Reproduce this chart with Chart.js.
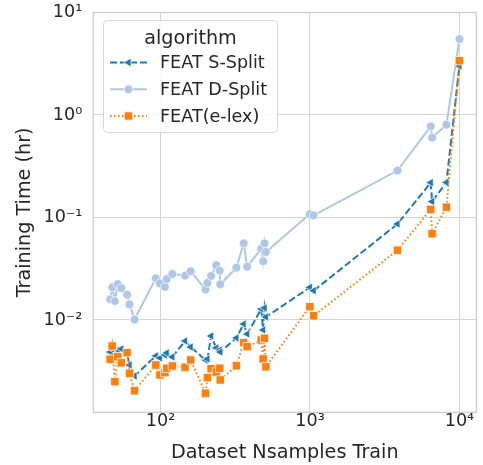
<!DOCTYPE html>
<html>
<head>
<meta charset="utf-8">
<script src="https://cdn.jsdelivr.net/npm/chart.js@4"></script>
<style>
html,body{margin:0;padding:0;background:#fff;}
canvas{display:block;}
</style>
</head>
<body>
<canvas id="c" width="483" height="465"></canvas>
<script>
const categories = ['FEAT S-Split', 'FEAT D-Split', 'FEAT(e-lex)'];
const nSamples = [46, 47.5, 49.5, 51.7, 54.7, 59.7, 62, 67, 93, 99, 107, 110, 120, 146, 159, 200, 206, 218, 236, 249, 251, 322, 360, 380, 472, 486, 497, 507, 998, 1058, 3849, 6427, 6565, 8188, 10000];
const sSplitHours = [0.00487, 0.00521, 0.00456, 0.00510, 0.00521, 0.00477, 0.00364, 0.00284, 0.00446, 0.00426, 0.00456, 0.00477, 0.00436, 0.00624, 0.00545, 0.00407, 0.00417, 0.00698, 0.00533, 0.00510, 0.00487, 0.00668, 0.00914, 0.00730, 0.0128, 0.00799, 0.0131, 0.0107, 0.0208, 0.0193, 0.0864, 0.219, 0.143, 0.220, 3.0];
const dSplitHours = [0.0159, 0.0209, 0.0153, 0.0224, 0.0205, 0.0177, 0.0142, 0.0101, 0.0255, 0.0228, 0.0210, 0.0251, 0.0281, 0.0271, 0.0299, 0.0198, 0.0230, 0.0269, 0.0342, 0.0303, 0.0223, 0.0324, 0.0560, 0.0331, 0.0496, 0.0374, 0.0560, 0.0461, 0.108, 0.105, 0.287, 0.776, 0.601, 0.804, 5.51];
const elexHours = [0.00414, 0.00557, 0.00250, 0.00438, 0.00383, 0.00480, 0.00302, 0.00204, 0.00364, 0.00291, 0.00306, 0.00338, 0.00356, 0.00346, 0.00407, 0.00193, 0.00274, 0.00335, 0.00311, 0.00338, 0.00260, 0.00358, 0.00601, 0.00549, 0.00638, 0.00417, 0.00663, 0.00350, 0.01349, 0.01101, 0.0479, 0.120, 0.0695, 0.126, 3.39];
const xTickValues = [100, 1000, 10000];
const yTickValues = [0.01, 0.1, 1, 10];
const legendTitle = 'algorithm';
const xTitle = 'Dataset Nsamples Train';
const yTitle = 'Training Time (hr)';

const FONT = "'DejaVu Sans', sans-serif";
const TEXT = '#262626';
const GRID = '#d4d4d4';
const colors = ['#1f77b4', '#aec7e8', '#ff7f0e'];
const dashes = [[7, 3], [], [1.6, 2.4]];
const pStyles = ['triangle', 'circle', 'rect'];
const pRot = [-90, 0, 0];
const pRad = [5, 4.4, 5.9];
const series = [sSplitHours, dSplitHours, elexHours];

const SUP = {'-':'\u207B','0':'\u2070','1':'\u00B9','2':'\u00B2','3':'\u00B3','4':'\u2074','5':'\u2075','6':'\u2076','7':'\u2077','8':'\u2078','9':'\u2079'};
function pow10Label(v){
  const e = String(Math.round(Math.log10(v)));
  return '10' + e.split('').map(ch => SUP[ch]).join('');
}
function zeroPad(s){ s.paddingTop = 0; s.paddingBottom = 0; s.paddingLeft = 0; s.paddingRight = 0; }

const datasets = categories.map((name, k) => ({
  label: name,
  data: nSamples.map((x, i) => ({x: x, y: series[k][i]})),
  showLine: true,
  borderColor: colors[k],
  backgroundColor: colors[k],
  borderWidth: 2,
  borderDash: dashes[k],
  pointStyle: pStyles[k],
  pointRotation: pRot[k],
  pointRadius: pRad[k],
  pointBackgroundColor: colors[k],
  pointBorderColor: 'rgba(255,255,255,0.9)',
  pointBorderWidth: 0.8,
  order: 2 - k,
  tension: 0
}));

const framePlugin = {
  id: 'frame',
  beforeDatasetsDraw(chart) {
    const a = chart.chartArea, ctx = chart.ctx;
    ctx.save();
    ctx.strokeStyle = '#cccccc';
    ctx.lineWidth = 1.25;
    ctx.strokeRect(a.left, a.top, a.right - a.left, a.bottom - a.top);
    ctx.restore();
  }
};

const legendPlugin = {
  id: 'customLegend',
  afterDatasetsDraw(chart) {
    const ctx = chart.ctx;
    const bx = 103.5, by = 20.5, bw = 174, bh = 112, r = 4;
    ctx.save();
    ctx.beginPath();
    ctx.moveTo(bx + r, by);
    ctx.lineTo(bx + bw - r, by);
    ctx.arcTo(bx + bw, by, bx + bw, by + r, r);
    ctx.lineTo(bx + bw, by + bh - r);
    ctx.arcTo(bx + bw, by + bh, bx + bw - r, by + bh, r);
    ctx.lineTo(bx + r, by + bh);
    ctx.arcTo(bx, by + bh, bx, by + bh - r, r);
    ctx.lineTo(bx, by + r);
    ctx.arcTo(bx, by, bx + r, by, r);
    ctx.closePath();
    ctx.fillStyle = 'rgba(255,255,255,0.8)';
    ctx.fill();
    ctx.strokeStyle = '#d6d6d6';
    ctx.lineWidth = 1;
    ctx.stroke();

    ctx.fillStyle = TEXT;
    ctx.font = '19.2px ' + FONT;
    ctx.textAlign = 'center';
    ctx.textBaseline = 'alphabetic';
    ctx.fillText(legendTitle, bx + bw / 2, 43.5);

    const rowY = [62.5, 89.3, 116];
    categories.forEach((name, k) => {
      const y = rowY[k];
      ctx.save();
      ctx.strokeStyle = colors[k];
      ctx.lineWidth = 2;
      ctx.setLineDash(dashes[k]);
      ctx.beginPath();
      ctx.moveTo(110, y);
      ctx.lineTo(147, y);
      ctx.stroke();
      ctx.restore();
      ctx.save();
      ctx.fillStyle = colors[k];
      ctx.strokeStyle = 'rgba(255,255,255,0.9)';
      ctx.lineWidth = 0.8;
      Chart.helpers.drawPoint(ctx, {
        pointStyle: pStyles[k], rotation: pRot[k], radius: pRad[k], borderWidth: 0.8
      }, 128.5, y);
      ctx.restore();
      ctx.fillStyle = TEXT;
      ctx.font = '17.6px ' + FONT;
      ctx.textAlign = 'left';
      ctx.textBaseline = 'middle';
      ctx.fillText(name, 160, y + 1);
    });
    ctx.restore();
  }
};

new Chart(document.getElementById('c'), {
  type: 'scatter',
  data: { datasets: datasets },
  options: {
    responsive: false,
    animation: false,
    devicePixelRatio: 1,
    layout: { padding: { top: 12.5, right: 2, left: 0, bottom: 0 } },
    plugins: { legend: { display: false }, tooltip: { enabled: false } },
    scales: {
      x: {
        type: 'logarithmic',
        min: 35.5, max: 12970,
        afterBuildTicks: s => { s.ticks = xTickValues.map(v => ({ value: v })); },
        afterFit: s => { s.height = 52.7; zeroPad(s); },
        grid: { color: GRID, lineWidth: 1, drawTicks: false },
        border: { display: false },
        ticks: {
          font: { family: FONT, size: 17.6 }, color: TEXT, padding: -1,
          maxRotation: 0, autoSkip: false,
          callback: v => pow10Label(v)
        },
        title: {
          display: true, text: xTitle,
          font: { family: FONT, size: 19.2 }, color: TEXT,
          padding: { top: 0, bottom: 0 }
        }
      },
      y: {
        type: 'logarithmic',
        min: 0.001257, max: 10,
        afterBuildTicks: s => { s.ticks = yTickValues.map(v => ({ value: v })); },
        afterFit: s => { s.width = 93.3; zeroPad(s); },
        grid: { color: GRID, lineWidth: 1, drawTicks: false },
        border: { display: false },
        ticks: {
          font: { family: FONT, size: 17.6 }, color: TEXT, padding: 11,
          autoSkip: false,
          callback: v => pow10Label(v)
        },
        title: {
          display: true, text: yTitle,
          font: { family: FONT, size: 19.2 }, color: TEXT,
          padding: { top: 13, bottom: 0 }
        }
      }
    }
  },
  plugins: [framePlugin, legendPlugin]
});
</script>
</body>
</html>
